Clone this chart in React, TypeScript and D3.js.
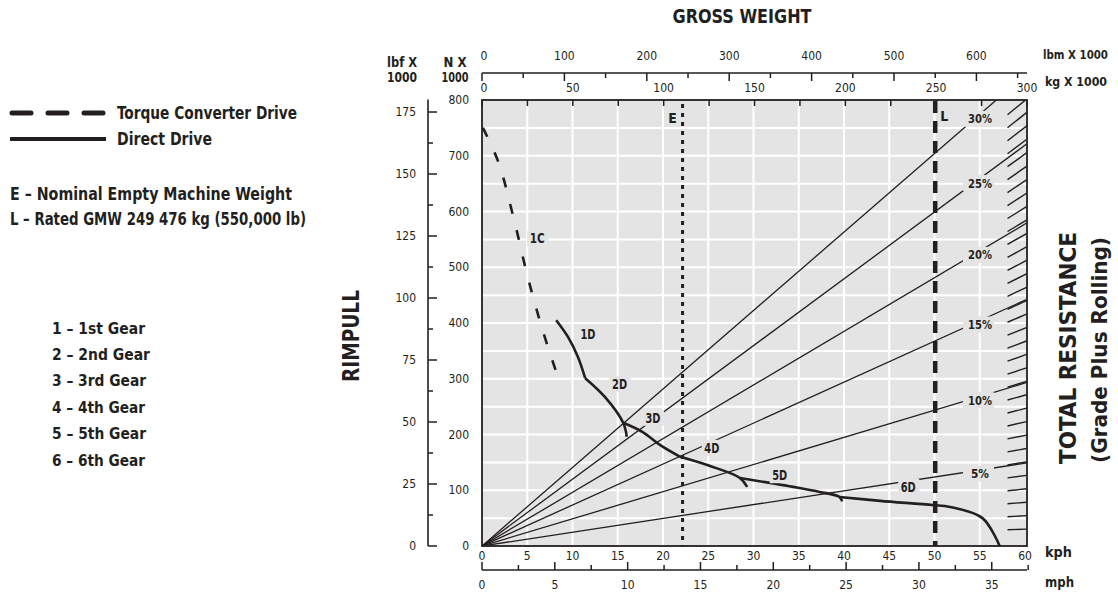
import * as d3 from "d3";
import { useEffect, useRef } from "react";

// axis tick labels
const kphTicks = [0, 5, 10, 15, 20, 25, 30, 35, 40, 45, 50, 55, 60];
const mphTicks = [0, 5, 10, 15, 20, 25, 30, 35];
const kNTicks = [0, 100, 200, 300, 400, 500, 600, 700, 800];
const lbfTicks = [0, 25, 50, 75, 100, 125, 150, 175];
const lbmTicks = [0, 100, 200, 300, 400, 500, 600];
const kgTicks = [0, 50, 100, 150, 200, 250, 300];

// total resistance lines, rimpull (kN) read where each one meets the L line
const grades = ["30%", "25%", "20%", "15%", "10%", "5%"];
const gradeKNatL = [705, 600, 482, 368, 244, 124];

// weights, kg x 1000
const emptyWeight = 110.4;
const ratedWeight = 249.476;

// rimpull curves [kph, kN]
const torque1C = [[0.1, 750], [1.8, 689], [3.5, 588], [5.0, 486], [6.7, 387], [8.5, 298]];
const direct1D = [[8.2, 405], [9.5, 375], [10.6, 339], [11.4, 301]];
const direct2D = [[11.4, 301], [13.6, 267], [15.6, 221], [16.0, 196]];
const direct3D = [[15.6, 221], [17.8, 204], [19.7, 181], [21.9, 160]];
const direct4D = [[21.9, 160], [25.2, 143.5], [28.5, 122], [29.3, 106]];
const direct5D = [[28.5, 122], [35.1, 104], [37.3, 97], [39.5, 88], [39.8, 80]];
const direct6D = [[39.5, 88], [44, 81], [49.8, 73.5], [51.7, 70], [55.3, 50], [57.2, 0]];

const gearLabels = ["1C", "1D", "2D", "3D", "4D", "5D", "6D"];
const gearLabelKph = [6.1, 11.7, 15.2, 18.9, 25.4, 32.9, 47.1];
const gearLabelKN = [552, 380, 290, 230, 176, 127, 106];

const gearNames = ["1 – 1st Gear", "2 – 2nd Gear", "3 – 3rd Gear", "4 – 4th Gear", "5 – 5th Gear", "6 – 6th Gear"];
const gearNameWidths = [93, 98, 94, 93, 94, 93];

const FONT = "'Liberation Sans Narrow', 'DejaVu Sans Condensed', 'Arial Narrow', sans-serif";
const INK = "#231f20";
const PLOT_BG = "#e4e4e5";

export default function App() {
  const ref = useRef<SVGSVGElement>(null);

  useEffect(() => {
    const svg = d3.select(ref.current);
    svg.selectAll("*").remove();

    const W = 1118, H = 593;
    const PL = 482, PR = 1027, PT = 100, PB = 546;

    const x = d3.scaleLinear().domain([0, 60]).range([PL, 1025]);
    const xKg = d3.scaleLinear().domain([0, 300]).range([PL, PR]);
    const y = d3.scaleLinear().domain([0, 800]).range([PB, PT]);
    const xMph = (m: number) => x(m * 1.609344);
    const xLbm = (l: number) => xKg(l * 0.45359237);
    const yLbf = (l: number) => y(l * 4.44822);

    svg.append("rect").attr("width", W).attr("height", H).attr("fill", "#fff");

    const txt = (sel: any, s: string, tx: number, ty: number, size: number, weight = "normal", anchor = "middle", len = 0) => {
      const t = sel.append("text")
        .attr("x", tx).attr("y", ty)
        .attr("dy", "0.35em")
        .attr("text-anchor", anchor)
        .style("font-family", FONT)
        .style("font-size", size + "px")
        .style("font-weight", weight)
        .style("fill", INK)
        .text(s);
      if (len) t.attr("textLength", len).attr("lengthAdjust", "spacingAndGlyphs");
      return t;
    };

    // plot area
    svg.append("defs").append("clipPath").attr("id", "plotclip")
      .append("rect").attr("x", PL).attr("y", PT).attr("width", PR - PL).attr("height", PB - PT);

    svg.append("rect")
      .attr("x", PL).attr("y", PT).attr("width", PR - PL).attr("height", PB - PT)
      .attr("fill", PLOT_BG);

    const plot = svg.append("g").attr("clip-path", "url(#plotclip)");

    // white grid: every 5 kph, every 50 kN
    plot.selectAll(".vgrid")
      .data(kphTicks.slice(1, -1))
      .enter().append("line")
      .attr("x1", (d) => x(d)).attr("x2", (d) => x(d))
      .attr("y1", PT).attr("y2", PB)
      .attr("stroke", "#fff").attr("stroke-width", 2);
    plot.selectAll(".hgrid")
      .data(y.ticks(16).filter((d) => d > 0 && d < 800))
      .enter().append("line")
      .attr("x1", PL).attr("x2", PR)
      .attr("y1", (d) => y(d)).attr("y2", (d) => y(d))
      .attr("stroke", "#fff").attr("stroke-width", 2);

    // resistance lines from origin
    grades.forEach((g, i) => {
      const slope = gradeKNatL[i] / ratedWeight;
      plot.append("line")
        .attr("x1", xKg(0)).attr("y1", y(0))
        .attr("x2", xKg(300)).attr("y2", y(slope * 300))
        .attr("stroke", INK).attr("stroke-width", 1.3);
    });

    // hatching along right edge
    d3.range(0, 33).forEach((i) => {
      const hy = 107 + i * 13.2;
      const cx = 1017;
      const dx = cx - PL, dy = PB - hy;
      const len = Math.hypot(dx, dy);
      const ux = dx / len, uy = dy / len;
      const half = 9.5 / ux;
      plot.append("line")
        .attr("x1", cx - ux * half).attr("y1", hy + uy * half)
        .attr("x2", cx + ux * half).attr("y2", hy - uy * half)
        .attr("stroke", INK).attr("stroke-width", 1.4);
    });

    // grade labels
    grades.forEach((g, i) => {
      const slope = gradeKNatL[i] / ratedWeight;
      const lx = xKg(273), ly = y(slope * 273) + 3;
      plot.append("rect")
        .attr("x", lx - 15).attr("y", ly - 8).attr("width", 31).attr("height", 16)
        .attr("fill", PLOT_BG);
      txt(svg, g, lx + 2, ly, 13, "bold", "middle", g.length > 2 ? 24 : 18);
    });

    // E and L weights
    svg.append("line")
      .attr("x1", xKg(emptyWeight)).attr("x2", xKg(emptyWeight))
      .attr("y1", PT + 4).attr("y2", PB)
      .attr("stroke", INK).attr("stroke-width", 3).attr("stroke-dasharray", "4,5");
    svg.append("line")
      .attr("x1", xKg(ratedWeight)).attr("x2", xKg(ratedWeight))
      .attr("y1", PT + 1).attr("y2", PB)
      .attr("stroke", INK).attr("stroke-width", 4.5).attr("stroke-dasharray", "12,8");
    txt(svg, "E", xKg(emptyWeight) - 10, 118, 14, "bold");
    txt(svg, "L", xKg(ratedWeight) + 9, 116, 14, "bold");

    // rimpull curves
    const line = d3.line<number[]>()
      .x((d) => x(d[0]))
      .y((d) => y(d[1]))
      .curve(d3.curveCatmullRom.alpha(0.5));

    plot.append("path").attr("d", line(torque1C))
      .attr("fill", "none").attr("stroke", INK).attr("stroke-width", 2.6)
      .attr("stroke-dasharray", "10,17");
    [direct1D, direct2D, direct3D, direct4D, direct5D, direct6D].forEach((seg) => {
      plot.append("path").attr("d", line(seg))
        .attr("fill", "none").attr("stroke", INK).attr("stroke-width", 2.6)
        .attr("stroke-linejoin", "round");
    });

    gearLabels.forEach((g, i) => {
      const lx = x(gearLabelKph[i]), ly = y(gearLabelKN[i]);
      svg.append("rect")
        .attr("x", lx - 10).attr("y", ly - 8).attr("width", 21).attr("height", 16)
        .attr("fill", PLOT_BG);
      txt(svg, g, lx, ly, 14, "bold", "middle", 15);
    });

    // border
    svg.append("rect")
      .attr("x", PL).attr("y", PT).attr("width", PR - PL).attr("height", PB - PT)
      .attr("fill", "none").attr("stroke", INK).attr("stroke-width", 1.8);

    // kg ticks on top border
    d3.range(0, 301, 25).forEach((k) => {
      svg.append("line")
        .attr("x1", xKg(k)).attr("x2", xKg(k))
        .attr("y1", PT).attr("y2", PT + 6)
        .attr("stroke", INK).attr("stroke-width", 1.5);
    });

    // gross weight axes
    svg.append("line").attr("x1", PL).attr("x2", PR).attr("y1", 73).attr("y2", 73)
      .attr("stroke", INK).attr("stroke-width", 1.6);
    d3.range(0, 651, 50).forEach((l) => {
      svg.append("line")
        .attr("x1", xLbm(l)).attr("x2", xLbm(l))
        .attr("y1", 73).attr("y2", l % 100 === 0 ? 81 : 78)
        .attr("stroke", INK).attr("stroke-width", 1.5);
    });
    lbmTicks.forEach((l) => txt(svg, String(l), xLbm(l) + (l === 0 ? 2 : 0), 56, 12));
    kgTicks.forEach((k) => txt(svg, String(k), xKg(k) + (k === 0 ? 2 : 0), 88, 12));
    txt(svg, "lbm X 1000", 1043, 55, 12.5, "bold", "start", 65);
    txt(svg, "kg X 1000", 1045, 82, 12.5, "bold", "start", 62);
    txt(svg, "GROSS WEIGHT", 742, 16, 19, "bold", "middle", 139);

    // speed axes
    kphTicks.forEach((k) => txt(svg, String(k), x(k), 556, 12));
    svg.append("line").attr("x1", PL).attr("x2", PR).attr("y1", 570).attr("y2", 570)
      .attr("stroke", INK).attr("stroke-width", 1.6);
    d3.range(0, 37.6, 2.5).forEach((m) => {
      svg.append("line")
        .attr("x1", xMph(m)).attr("x2", xMph(m))
        .attr("y1", 570).attr("y2", m % 5 === 0 ? 562 : 565)
        .attr("stroke", INK).attr("stroke-width", 1.5);
    });
    mphTicks.forEach((m) => txt(svg, String(m), xMph(m), 585, 12));
    txt(svg, "kph", 1045, 552, 14, "bold", "start", 27);
    txt(svg, "mph", 1045, 582, 14, "bold", "start", 29);

    // rimpull axes
    kNTicks.forEach((k) => txt(svg, String(k), 469, y(k), 12, "normal", "end"));
    svg.append("line").attr("x1", 428).attr("x2", 428).attr("y1", yLbf(180)).attr("y2", yLbf(0))
      .attr("stroke", INK).attr("stroke-width", 1.6);
    d3.range(0, 176, 12.5).forEach((l) => {
      svg.append("line")
        .attr("x1", 428).attr("x2", l % 25 === 0 ? 437 : 433)
        .attr("y1", yLbf(l)).attr("y2", yLbf(l))
        .attr("stroke", INK).attr("stroke-width", 1.5);
    });
    lbfTicks.forEach((l) => txt(svg, String(l), 416, yLbf(l), 12, "normal", "end"));
    txt(svg, "lbf X", 402, 62, 14, "bold", "middle", 30);
    txt(svg, "1000", 402, 77, 14, "bold", "middle", 30);
    txt(svg, "N X", 455, 62, 14, "bold", "middle", 23);
    txt(svg, "1000", 455, 77, 14, "bold", "middle", 27);

    txt(svg, "RIMPULL", 351, 336, 23, "bold", "middle", 92).attr("transform", "rotate(-90,351,336)");
    txt(svg, "TOTAL RESISTANCE", 1068, 348, 23, "bold", "middle", 232).attr("transform", "rotate(-90,1068,348)");
    txt(svg, "(Grade Plus Rolling)", 1099, 350, 22, "bold", "middle", 226).attr("transform", "rotate(-90,1099,350)");

    // legend
    svg.append("line").attr("x1", 12).attr("x2", 103).attr("y1", 113).attr("y2", 113)
      .attr("stroke", INK).attr("stroke-width", 5).attr("stroke-linecap", "round")
      .attr("stroke-dasharray", "19,17");
    svg.append("line").attr("x1", 10).attr("x2", 106).attr("y1", 139).attr("y2", 139)
      .attr("stroke", INK).attr("stroke-width", 4);
    txt(svg, "Torque Converter Drive", 117, 113, 17, "bold", "start", 180);
    txt(svg, "Direct Drive", 117, 139, 17, "bold", "start", 95);
    txt(svg, "E – Nominal Empty Machine Weight", 10, 194, 17, "bold", "start", 282);
    txt(svg, "L – Rated GMW 249 476 kg (550,000 lb)", 10, 219, 17, "bold", "start", 296);
    gearNames.forEach((n, i) => txt(svg, n, 52, 328 + i * 26.4, 16, "bold", "start", gearNameWidths[i]));
  }, []);

  return (
    <svg ref={ref} width={1118} height={593} style={{ position: "absolute", left: 0, top: 0 }} />
  );
}
